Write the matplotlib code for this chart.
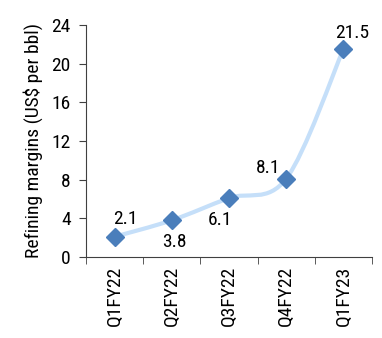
import numpy as np
import matplotlib
matplotlib.use("Agg")
import matplotlib.pyplot as plt
from matplotlib.path import Path
from matplotlib.patches import PathPatch

quarters = ["Q1FY22", "Q2FY22", "Q3FY22", "Q4FY22", "Q1FY23"]
margins = [2.1, 3.8, 6.1, 8.1, 21.5]
yticks = [0, 4, 8, 12, 16, 20, 24]

plt.rcParams['font.family'] = ['Roboto Condensed', 'DejaVu Sans']

fig = plt.figure(figsize=(3.82, 3.38), dpi=100)
ax = fig.add_axes([86/382, 1 - 257/338, (372-86)/382, (257-25)/338])

x = np.arange(len(margins))
y = np.array(margins)

# smoothed line drawn as cubic bezier segments through the data points
verts = [(x[0], y[0])]
codes = [Path.MOVETO]
for i in range(len(x) - 1):
    p0 = (x[max(i-1, 0)], y[max(i-1, 0)])
    p1 = (x[i], y[i])
    p2 = (x[i+1], y[i+1])
    p3 = (x[min(i+2, len(x)-1)], y[min(i+2, len(x)-1)])
    c1 = (p1[0] + (p2[0]-p0[0])/6, p1[1] + (p2[1]-p0[1])/6)
    c2 = (p2[0] - (p3[0]-p1[0])/6, p2[1] - (p3[1]-p1[1])/6)
    verts += [c1, c2, p2]
    codes += [Path.CURVE4] * 3
ax.add_patch(PathPatch(Path(verts, codes), facecolor='none',
                       edgecolor='#c5dff9', lw=3.0, capstyle='round'))

ax.plot(x, y, linestyle='none', marker='D', ms=9.5, color='#4a7ebb', zorder=3)

# label offsets in points
offsets = [(8, 13), (2, -16), (-6.5, -16), (-13, 7.5), (6, 12)]
for xi, yi, (dx, dy) in zip(x, y, offsets):
    ax.annotate(f"{yi:.1f}", (xi, yi), xytext=(dx, dy), textcoords='offset points',
                ha='center', va='center', fontsize=14)

ax.set_xlim(-0.5, len(x) - 0.5)
ax.set_ylim(0, 24)
ax.set_yticks(yticks)
ax.set_xticks(x)
ax.set_xticklabels(quarters, rotation=90)
ax.set_xticks(np.arange(-0.5, len(x)), minor=True)
ax.tick_params(axis='x', which='major', length=0, pad=6, labelsize=14)
ax.tick_params(axis='x', which='minor', length=5, color='#404040')
ax.tick_params(axis='y', length=5, pad=6, color='#404040', labelsize=14)
ax.set_ylabel("Refining margins (US$ per bbl)", fontsize=14, labelpad=6)
for s in ['top', 'right']:
    ax.spines[s].set_visible(False)
for s in ['left', 'bottom']:
    ax.spines[s].set_color('#404040')

fig.savefig("out.png", dpi=100)
